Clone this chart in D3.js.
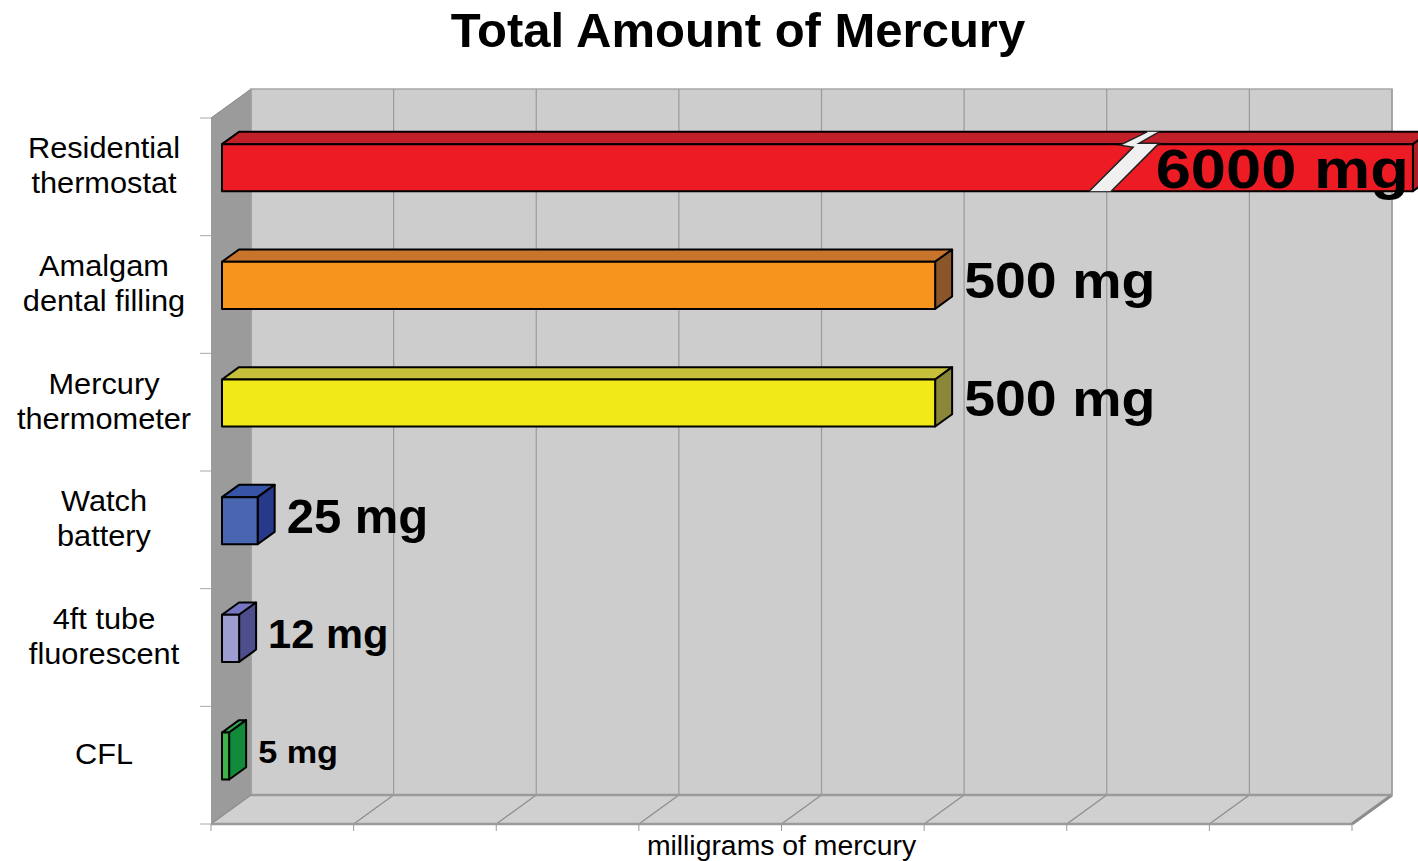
<!DOCTYPE html>
<html>
<head>
  <meta charset="utf-8">
  <title>Total Amount of Mercury</title>
  <script src="https://d3js.org/d3.v7.min.js"></script>
  <style>
    body { margin: 0; background: #fff; }
    text { font-family: "Liberation Sans", Arial, sans-serif; fill: #000; }
  </style>
</head>
<body>
<script>
// data
var categories = [["Residential", "thermostat"], ["Amalgam", "dental filling"], ["Mercury", "thermometer"],
                  ["Watch", "battery"], ["4ft tube", "fluorescent"], ["CFL"]];
var values = [6000, 500, 500, 25, 12, 5];
var unit = "mg";
var axisTitle = "milligrams of mercury";
var title = "Total Amount of Mercury";

// the 6000 mg bar does not fit, it is drawn broken
var breakAt = 608, brokenEnd = 835;

// styles
var frontColor = ["#ed1c24", "#f7941d", "#f2ea18", "#4a66b0", "#9d9dd2", "#3cb44b"];
var topColor   = ["#c1202a", "#c8742c", "#c6c03a", "#3854a6", "#7575c2", "#2fa84a"];
var sideColor  = ["#b01c24", "#8a5528", "#8a8838", "#27398a", "#4e4e8c", "#118a3a"];
var labelSize  = [56, 50, 50, 49, 40, 32];
var labelScale = [1.13, 1.11, 1.11, 1.0, 1.04, 1.07];

var W = 1418, H = 861;
var depthX = 40, depthY = 29;      // wall depth
var d0 = 0.275, d1 = 0.7;          // bar depth inside the box

var x = d3.scaleLinear().domain([0, 800]).range([211, 1352]);
var y = d3.scaleBand().domain(d3.range(categories.length)).range([118, 824]);

function proj(px, py, d) { return [px + d * depthX, py - d * depthY]; }
function pts(a) { return a.map(function(p) { return p.join(","); }).join(" "); }

var svg = d3.select("body").append("svg")
    .attr("width", W)
    .attr("height", H);

var yTop = y.range()[0], yBot = y.range()[1];
var x0 = x(0), x1 = x(800);

// walls
svg.append("polygon")
    .attr("points", pts([[x0, yTop], proj(x0, yTop, 1), proj(x0, yBot, 1), [x0, yBot]]))
    .attr("fill", "#9b9b9b");

svg.append("polygon")
    .attr("points", pts([proj(x0, yTop, 1), proj(x1, yTop, 1), proj(x1, yBot, 1), proj(x0, yBot, 1)]))
    .attr("fill", "#cdcdcd")
    .attr("stroke", "#a8a8a8")
    .attr("stroke-width", 1.5);

svg.append("polygon")
    .attr("points", pts([[x0, yBot], proj(x0, yBot, 1), proj(x1, yBot, 1), [x1, yBot]]))
    .attr("fill", "#d0d0d0");

var ticks = x.ticks(8);

// grid on back wall and floor
svg.selectAll("line.grid")
    .data(ticks)
  .enter().append("line")
    .attr("class", "grid")
    .attr("x1", function(d) { return proj(x(d), yTop, 1)[0]; })
    .attr("x2", function(d) { return proj(x(d), yTop, 1)[0]; })
    .attr("y1", proj(0, yTop, 1)[1])
    .attr("y2", proj(0, yBot, 1)[1])
    .attr("stroke", "#9a9a9a")
    .attr("stroke-width", 1.2);

svg.selectAll("line.floor")
    .data(ticks)
  .enter().append("line")
    .attr("class", "floor")
    .attr("x1", function(d) { return x(d); })
    .attr("y1", yBot)
    .attr("x2", function(d) { return proj(x(d), yBot, 1)[0]; })
    .attr("y2", proj(0, yBot, 1)[1])
    .attr("stroke", "#8c8c8c")
    .attr("stroke-width", function(d, i) { return i == ticks.length - 1 ? 3 : 1.2; });

// floor edges
svg.append("line")
    .attr("x1", proj(x0, yBot, 1)[0]).attr("x2", proj(x1, yBot, 1)[0])
    .attr("y1", proj(0, yBot, 1)[1]).attr("y2", proj(0, yBot, 1)[1])
    .attr("stroke", "#9a9a9a").attr("stroke-width", 2.5);
svg.append("line")
    .attr("x1", x0).attr("x2", x1).attr("y1", yBot).attr("y2", yBot)
    .attr("stroke", "#9a9a9a").attr("stroke-width", 2.5);
svg.append("line")
    .attr("x1", x0).attr("y1", yTop)
    .attr("x2", proj(x0, yTop, 1)[0]).attr("y2", proj(x0, yTop, 1)[1])
    .attr("stroke", "#8a8a8a").attr("stroke-width", 1);

// axis ticks
svg.selectAll("line.xtick")
    .data(ticks)
  .enter().append("line")
    .attr("x1", function(d) { return x(d); })
    .attr("x2", function(d) { return x(d); })
    .attr("y1", yBot).attr("y2", yBot + 7)
    .attr("stroke", "#999");

var bandEdges = y.domain().map(function(i) { return y(i); }).concat([yBot]);
svg.selectAll("line.ytick")
    .data(bandEdges)
  .enter().append("line")
    .attr("x1", x0 - 11).attr("x2", x0)
    .attr("y1", function(d) { return d; })
    .attr("y2", function(d) { return d; })
    .attr("stroke", "#aaa");

// bars
var bw = y.bandwidth();
values.forEach(function(v, i) {
  var shown = v > 800 ? brokenEnd : v;
  var ft = proj(x(0), y(i) + bw * 0.29, d0);
  var fb = proj(x(0), y(i) + bw * 0.69, d0);
  var xl = ft[0], xr = proj(x(shown), 0, d0)[0];
  var dx = (d1 - d0) * depthX, dy = (d1 - d0) * depthY;
  var g = svg.append("g")
      .attr("stroke", "#000")
      .attr("stroke-width", 2)
      .attr("stroke-linejoin", "round");

  g.append("polygon")
      .attr("points", pts([[xl, ft[1]], [xr, ft[1]], [xr + dx, ft[1] - dy], [xl + dx, ft[1] - dy]]))
      .attr("fill", topColor[i]);
  g.append("polygon")
      .attr("points", pts([[xr, ft[1]], [xr + dx, ft[1] - dy], [xr + dx, fb[1] - dy], [xr, fb[1]]]))
      .attr("fill", sideColor[i]);
  g.append("rect")
      .attr("x", xl).attr("y", ft[1])
      .attr("width", xr - xl).attr("height", fb[1] - ft[1])
      .attr("fill", frontColor[i]);

  if (v > 800) {
    var bx = proj(x(breakAt), 0, d0)[0];
    var yt = ft[1], yb = fb[1], yk = ft[1] - dy;
    var left = [[bx, yb], [bx + 44, yt + 3], [bx + 31, yt + 1], [bx + 58, yk]];
    var right = [[bx + 70, yk], [bx + 50, yt - 1], [bx + 70, yt - 1], [bx + 22, yb]];
    svg.append("polygon")
        .attr("points", pts(left.concat(right)))
        .attr("fill", "#f0f0f0");
    [left, right].forEach(function(edge) {
      svg.append("polyline")
          .attr("points", pts(edge))
          .attr("fill", "none")
          .attr("stroke", "#222")
          .attr("stroke-width", 1.5);
    });
  }

  var cy = (ft[1] + fb[1]) / 2;
  var lab = svg.append("text")
      .attr("font-weight", "bold")
      .attr("font-size", labelSize[i])
      .text(v + " " + unit);
  if (v > 800) {
    lab.attr("text-anchor", "end")
       .attr("transform", "translate(" + (xr - 4) + "," + (cy + 0.36 * labelSize[i]) + ") scale(" + labelScale[i] + ",1)");
  } else {
    lab.attr("transform", "translate(" + (xr + dx + 12) + "," + (cy - 5 + 0.36 * labelSize[i]) + ") scale(" + labelScale[i] + ",1)");
  }
});

// category labels
categories.forEach(function(lines, i) {
  var cy = y(i) + bw / 2 - 11;
  var t = svg.append("text")
      .attr("text-anchor", "middle")
      .attr("font-size", 29)
      .attr("transform", "translate(104," + cy + ") scale(1.06,1)");
  lines.forEach(function(s, j) {
    var off = lines.length == 1 ? 10 : (j == 0 ? -7.5 : 27.5);
    t.append("tspan").attr("x", 0).attr("y", off).text(s);
  });
});

// titles
svg.append("text")
    .attr("x", 738).attr("y", 47)
    .attr("text-anchor", "middle")
    .attr("font-weight", "bold")
    .attr("font-size", 49)
    .text(title);

svg.append("text")
    .attr("text-anchor", "middle")
    .attr("font-size", 27)
    .attr("transform", "translate(" + (x0 + x1) / 2 + ",855) scale(1.05,1)")
    .text(axisTitle);
</script>
</body>
</html>
